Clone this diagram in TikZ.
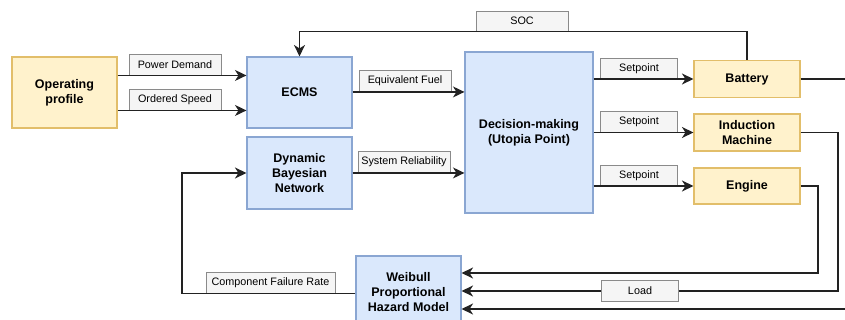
\documentclass[tikz,border=0pt]{standalone}
\usepackage{fontspec}
\setmainfont{Liberation Sans}
\usetikzlibrary{arrows.meta}
\definecolor{yfill}{HTML}{FFF2CC}
\definecolor{ydraw}{HTML}{E2BE6A}
\definecolor{bfill}{HTML}{DAE8FC}
\definecolor{bdraw}{HTML}{8AA6D2}
\definecolor{lfill}{HTML}{F5F5F5}
\definecolor{ldraw}{HTML}{8A8A8A}
\definecolor{wire}{HTML}{222222}
\tikzset{
  ybox/.style={draw=ydraw,fill=yfill,line width=1.1pt,align=center,inner sep=0pt,
    font=\fontsize{12.5}{15}\selectfont\bfseries},
  bbox/.style={draw=bdraw,fill=bfill,line width=1.1pt,align=center,inner sep=0pt,
    font=\fontsize{12.5}{15}\selectfont\bfseries},
  lbl/.style={draw=ldraw,fill=lfill,line width=0.9pt,inner sep=0pt,minimum height=21pt,
    font=\fontsize{10.8}{13}\selectfont},
  wireln/.style={draw=wire,line width=1.3pt},
  arr/.style={wireln,-{Stealth[length=11.5pt,width=11pt,inset=3.5pt]}}
}
\begin{document}
\begin{tikzpicture}[x=1pt,y=-1pt]
\useasboundingbox (0,0) rectangle (845,320);
% main boxes
\node[ybox,minimum width=105pt,minimum height=71pt] (op) at (64.5,92.5) {Operating\\profile};
\node[bbox,minimum width=105pt,minimum height=71pt] (ecms) at (299.5,92.5) {ECMS};
\node[bbox,minimum width=105pt,minimum height=72pt] (dbn) at (299.5,173) {Dynamic\\Bayesian\\Network};
\node[bbox,minimum width=128pt,minimum height=161pt] (dec) at (529,132.5) {Decision-making\\(Utopia Point)};
\node[ybox,minimum width=106pt,minimum height=37pt] (bat) at (747,79) {Battery};
\node[ybox,minimum width=106pt,minimum height=37pt] (im) at (747,132.5) {Induction\\Machine};
\node[ybox,minimum width=106pt,minimum height=36pt] (eng) at (747,186) {Engine};
\node[bbox,minimum width=105pt,minimum height=72pt] (wb) at (408.5,292) {Weibull\\Proportional\\Hazard Model};
% labels
\node[lbl,minimum width=92pt] (pd) at (175,64.5) {Power Demand};
\node[lbl,minimum width=92pt] (os) at (175,99.5) {Ordered Speed};
\node[lbl,minimum width=92pt] (ef) at (405,81) {Equivalent Fuel};
\node[lbl,minimum width=92pt] (sr) at (404,162) {System Reliability};
\node[lbl,minimum width=92pt,minimum height=20pt] (soc) at (522,21) {SOC};
\node[lbl,minimum width=77pt] (sp1) at (639,68.5) {Setpoint};
\node[lbl,minimum width=77pt] (sp2) at (639,122) {Setpoint};
\node[lbl,minimum width=77pt] (sp3) at (639,175.5) {Setpoint};
\node[lbl,minimum width=129pt] (cfr) at (270.5,282.5) {Component Failure Rate};
% helper coordinates
\coordinate (rEdge) at (848,79);
\coordinate (rBot) at (848,309);
\coordinate (imTurn) at (838,291);
\coordinate (engTurn) at (818,273);
\coordinate (lTurn) at (182,0);
% connectors
\draw[arr] (op.east |- pd.south) -- (ecms.west |- pd.south);
\draw[arr] (op.east |- os.south) -- (ecms.west |- os.south);
\draw[arr] (ecms.east |- ef.south) -- (dec.west |- ef.south);
\draw[arr] (dbn.east |- sr.south) -- (dec.west |- sr.south);
\draw[arr] (dec.east |- bat.west) -- (bat.west);
\draw[arr] (dec.east |- im.west) -- (im.west);
\draw[arr] (dec.east |- eng.west) -- (eng.west);
\draw[arr] (bat.north) |- (ecms.north |- soc.south) -- (ecms.north);
\draw[wireln] (bat.east) -- (rEdge);
\draw[arr] (rBot) -- (rBot -| wb.east);
\draw[arr] (im.east) -| (imTurn) -- (imTurn -| wb.east);
\node[lbl,minimum width=77pt] (load) at (640,291) {Load};
\draw[arr] (eng.east) -| (engTurn) -- (engTurn -| wb.east);
\draw[arr] (wb.west |- cfr.south) -| (lTurn |- dbn.west) -- (dbn.west);
\end{tikzpicture}
\end{document}
